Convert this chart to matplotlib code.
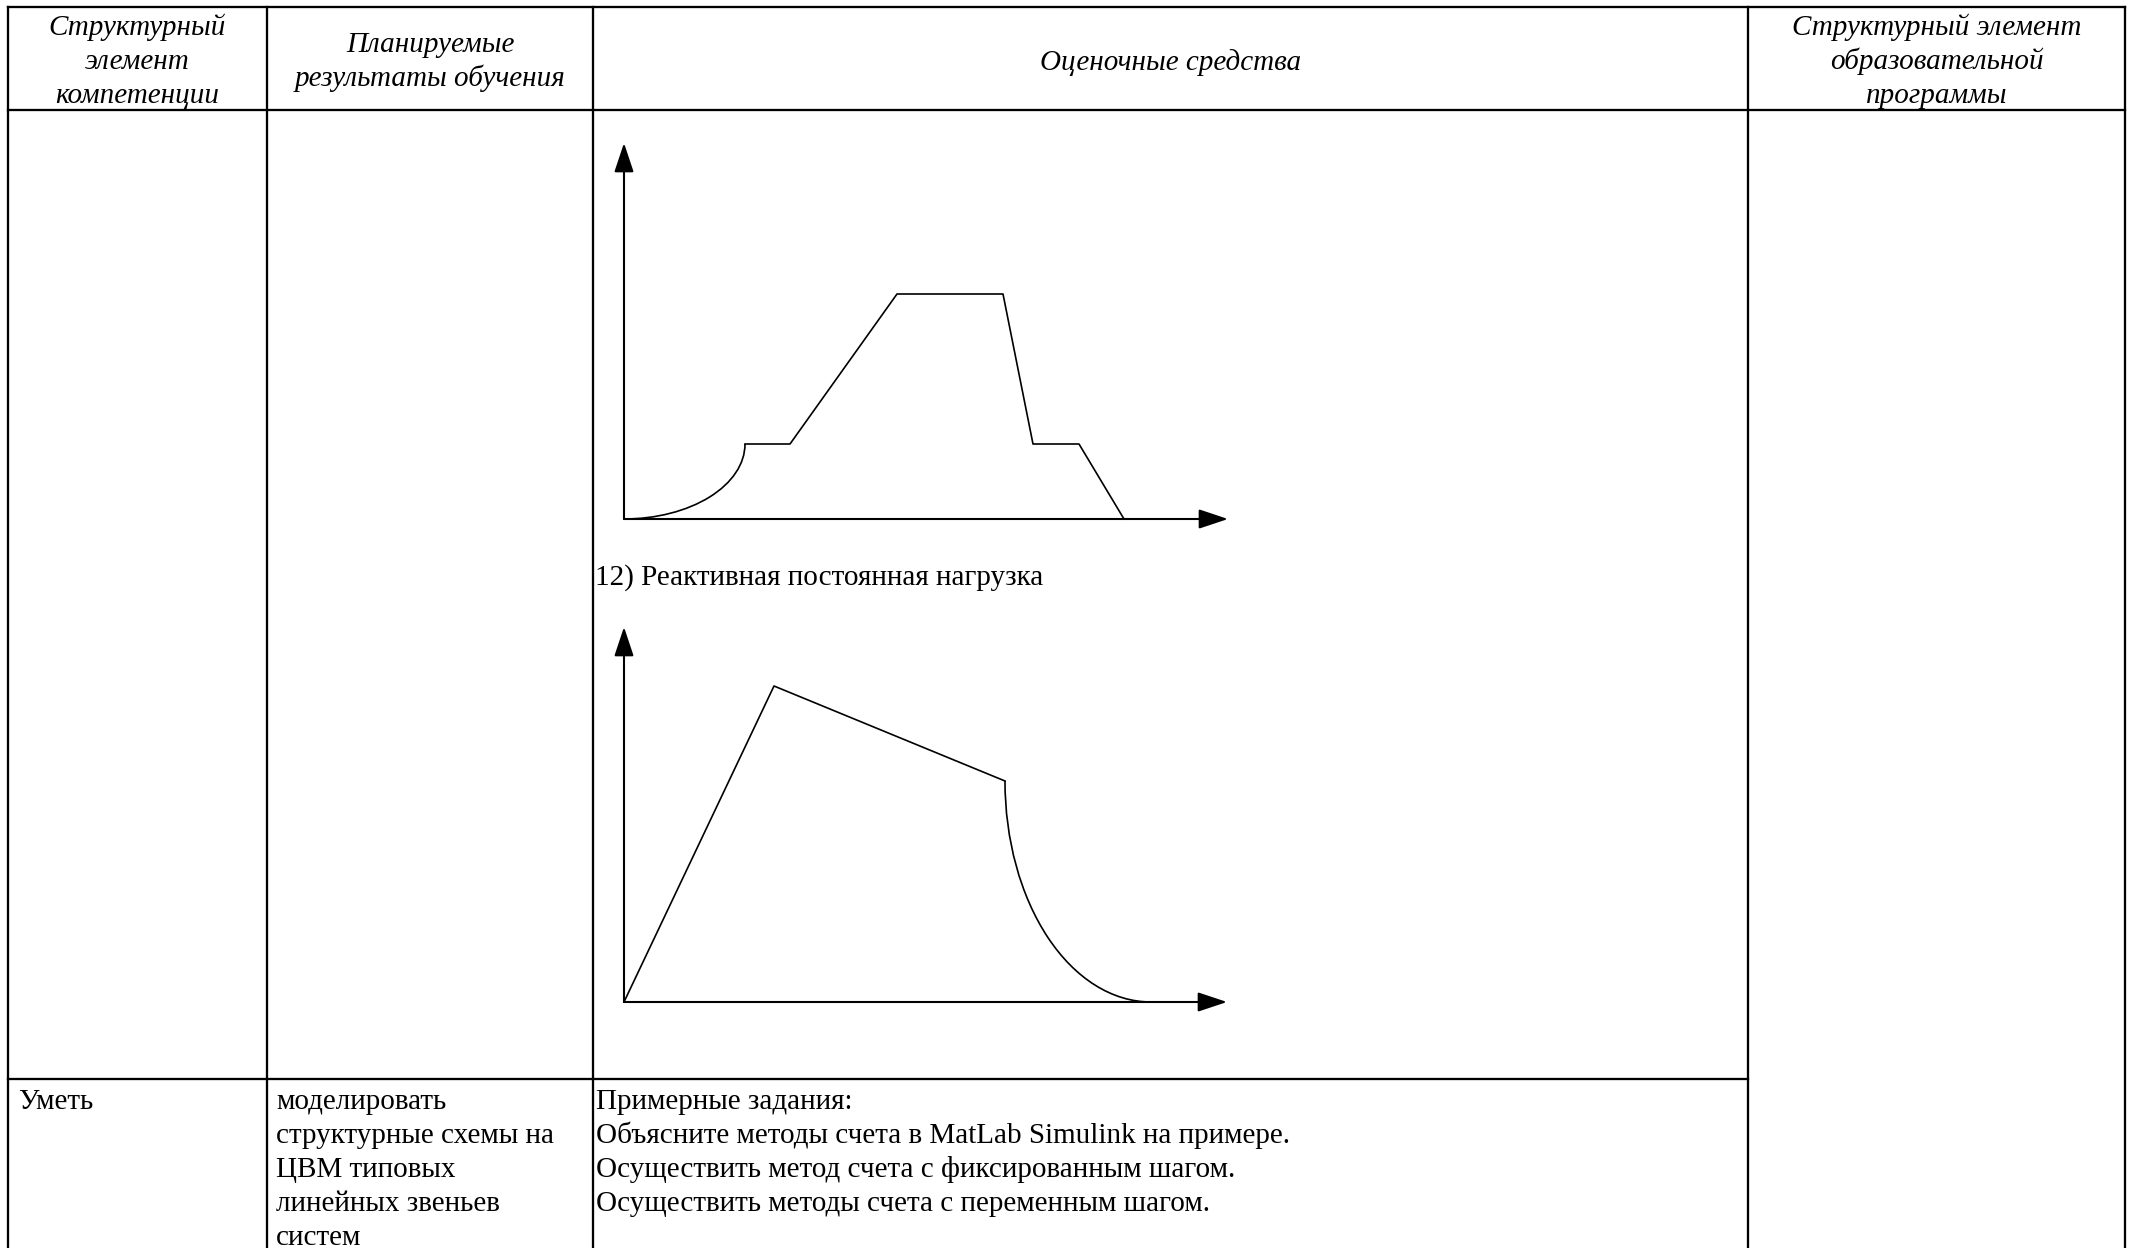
import matplotlib
matplotlib.use("Agg")
import matplotlib.pyplot as plt
from matplotlib.patches import Arc

W, H, DPI = 2134, 1248, 150

# header and body text of the table
head_col1 = ["Структурный", "элемент", "компетенции"]
head_col2 = ["Планируемые", "результаты обучения"]
head_col3 = ["Оценочные средства"]
head_col4 = ["Структурный элемент", "образовательной", "программы"]
row_col1 = ["Уметь"]
row_col2 = ["моделировать", "структурные схемы на", "ЦВМ типовых",
            "линейных звеньев", "систем"]
row_col3 = ["Примерные задания:",
            "Объясните методы счета в MatLab Simulink на примере.",
            "Осуществить метод счета с фиксированным шагом.",
            "Осуществить методы счета с переменным шагом."]
caption2 = "12) Реактивная постоянная нагрузка"

# graph 1: load diagram (arc start, then broken line)
g1_arc_end = (1.21, 0.75)
g1_t = [1.21, 1.66, 2.73, 3.79, 4.09, 4.55, 5.00]
g1_w = [0.75, 0.75, 2.25, 2.25, 0.75, 0.75, 0.00]
g1_xmax, g1_ymax = 6.04, 3.76

# graph 2: reactive constant load
g2_t = [0.00, 1.50, 3.81]
g2_w = [0.00, 3.16, 2.21]
g2_arc_end = (5.27, 0.00)
g2_xmax, g2_ymax = 6.03, 3.75

fig = plt.figure(figsize=(W / DPI, H / DPI), dpi=DPI)
ax = fig.add_axes([0, 0, 1, 1])
ax.set_xlim(0, W)
ax.set_ylim(H, 0)
ax.axis("off")

lw_tab = 1.1
xs = [8, 267, 593, 1748, 2125]
for x in xs:
    ax.plot([x, x], [7, H], color="black", lw=lw_tab, solid_capstyle="projecting")
ax.plot([xs[0], xs[-1]], [7, 7], color="black", lw=lw_tab, solid_capstyle="projecting")
ax.plot([xs[0], xs[-1]], [110, 110], color="black", lw=lw_tab)
ax.plot([xs[0], xs[3]], [1079, 1079], color="black", lw=lw_tab)

serif = "Liberation Serif"
fs = 14


def head(lines, cx, baselines):
    for s, y in zip(lines, baselines):
        ax.text(cx, y, s, ha="center", va="baseline", fontsize=fs,
                family=serif, style="italic")


head(head_col1, (xs[0] + xs[1]) / 2, [35, 69, 103])
head(head_col2, (xs[1] + xs[2]) / 2, [52, 86])
head(head_col3, (xs[2] + xs[3]) / 2, [70])
head(head_col4, (xs[3] + xs[4]) / 2, [35, 69, 103])


def body(lines, x0, y0, step=34):
    for i, s in enumerate(lines):
        ax.text(x0, y0 + i * step, s, ha="left", va="baseline", fontsize=fs,
                family=serif)


body(row_col1, 18, 1109)
body(row_col2, 276, 1109)
body(row_col3, 596, 1109)
ax.text(595, 585, caption2, ha="left", va="baseline", fontsize=fs, family=serif)


def graph(ox, oy, xmax, ymax):
    g = fig.add_axes([ox / W, (H - oy) / H, xmax * 100 / W, ymax * 100 / H])
    g.set_xlim(0, xmax)
    g.set_ylim(0, ymax)
    g.axis("off")
    arrow = dict(arrowstyle="-|>,head_length=0.6,head_width=0.2",
                 mutation_scale=20, lw=1.0, color="black",
                 shrinkA=0, shrinkB=0)
    g.annotate("", xy=(0, 1), xytext=(0, 0), xycoords="axes fraction",
               arrowprops=arrow, annotation_clip=False)
    g.annotate("", xy=(1, 0), xytext=(0, 0), xycoords="axes fraction",
               arrowprops=arrow, annotation_clip=False)
    return g


g1 = graph(624, 519, g1_xmax, g1_ymax)
ex, ey = g1_arc_end
g1.add_patch(Arc((0, ey), 2 * ex, 2 * ey, theta1=270, theta2=360,
                 color="black", lw=0.8, clip_on=False))
g1.plot(g1_t, g1_w, color="black", lw=0.8, clip_on=False)

g2 = graph(624, 1002, g2_xmax, g2_ymax)
g2.plot(g2_t, g2_w, color="black", lw=0.8, clip_on=False)
kx, ky = g2_t[-1], g2_w[-1]
ax2x, ax2y = g2_arc_end
g2.add_patch(Arc((ax2x, ky), 2 * (ax2x - kx), 2 * ky, theta1=180, theta2=270,
                 color="black", lw=0.8, clip_on=False))

fig.savefig("out.png", dpi=DPI, facecolor="white")
